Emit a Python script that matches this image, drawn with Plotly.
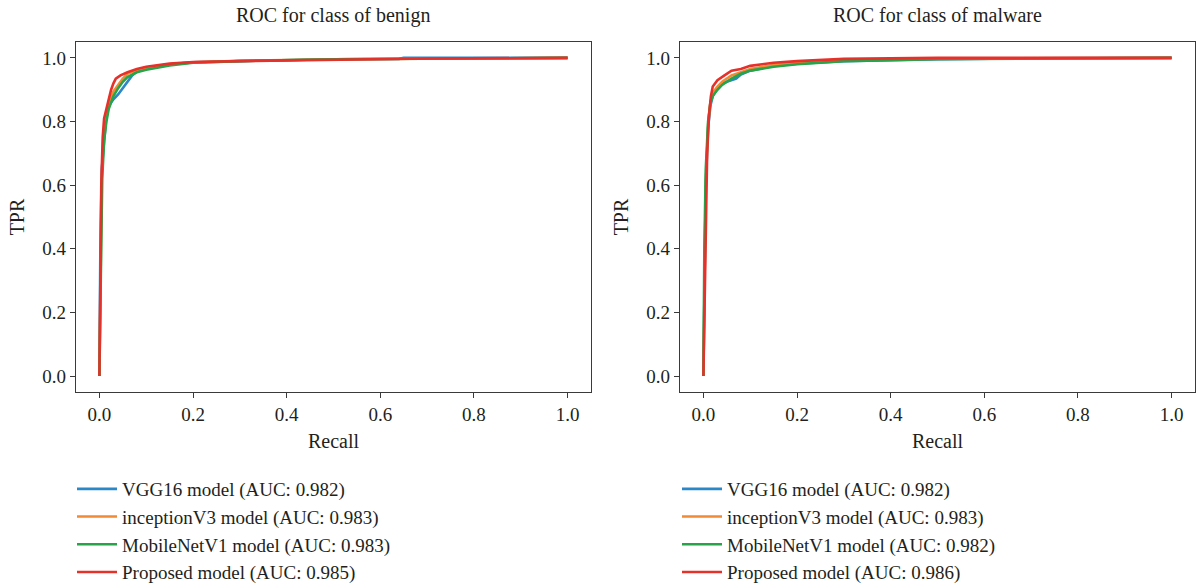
import plotly.graph_objects as go

# ROC curves, benign class: (false positive rate, true positive rate)
benign_vgg16_x = [0, 0.002, 0.005, 0.01, 0.015, 0.02, 0.03, 0.04, 0.05, 0.06, 0.07, 0.08, 0.1, 0.15, 0.2, 0.3, 0.5, 0.64, 0.65, 1.0]
benign_vgg16_y = [0, 0.40, 0.65, 0.75, 0.82, 0.85, 0.87, 0.885, 0.905, 0.925, 0.945, 0.958, 0.97, 0.98, 0.986, 0.99, 0.996, 0.997, 1.0, 1.0]
benign_incv3_x = [0, 0.002, 0.005, 0.008, 0.012, 0.016, 0.02, 0.03, 0.04, 0.05, 0.06, 0.08, 0.1, 0.15, 0.2, 0.3, 0.5, 0.7, 1.0]
benign_incv3_y = [0, 0.35, 0.62, 0.74, 0.80, 0.83, 0.86, 0.895, 0.915, 0.935, 0.95, 0.962, 0.97, 0.98, 0.986, 0.991, 0.996, 0.998, 1.0]
benign_mnv1_x = [0, 0.003, 0.006, 0.01, 0.015, 0.02, 0.03, 0.04, 0.05, 0.06, 0.08, 0.1, 0.12, 0.15, 0.2, 0.3, 0.5, 0.7, 1.0]
benign_mnv1_y = [0, 0.35, 0.62, 0.74, 0.80, 0.84, 0.88, 0.905, 0.925, 0.94, 0.955, 0.963, 0.968, 0.976, 0.985, 0.99, 0.996, 0.998, 1.0]
benign_prop_x = [0, 0.002, 0.004, 0.007, 0.01, 0.015, 0.02, 0.025, 0.03, 0.035, 0.045, 0.06, 0.08, 0.1, 0.15, 0.2, 0.3, 0.5, 0.7, 1.0]
benign_prop_y = [0, 0.30, 0.60, 0.75, 0.81, 0.84, 0.87, 0.90, 0.92, 0.935, 0.945, 0.955, 0.965, 0.972, 0.982, 0.987, 0.99, 0.995, 0.998, 1.0]

# ROC curves, malware class
malware_vgg16_x = [0, 0.002, 0.005, 0.01, 0.015, 0.02, 0.03, 0.04, 0.05, 0.06, 0.07, 0.08, 0.1, 0.15, 0.2, 0.3, 0.5, 0.7, 1.0]
malware_vgg16_y = [0, 0.35, 0.60, 0.78, 0.85, 0.88, 0.905, 0.92, 0.925, 0.93, 0.935, 0.948, 0.96, 0.975, 0.982, 0.99, 0.996, 0.999, 1.0]
malware_incv3_x = [0, 0.002, 0.005, 0.01, 0.015, 0.02, 0.03, 0.04, 0.06, 0.08, 0.1, 0.15, 0.2, 0.3, 0.5, 1.0]
malware_incv3_y = [0, 0.35, 0.60, 0.79, 0.86, 0.89, 0.91, 0.925, 0.945, 0.955, 0.965, 0.978, 0.985, 0.993, 0.998, 1.0]
malware_mnv1_x = [0, 0.002, 0.005, 0.01, 0.015, 0.02, 0.03, 0.04, 0.06, 0.08, 0.1, 0.15, 0.2, 0.3, 0.5, 1.0]
malware_mnv1_y = [0, 0.40, 0.65, 0.80, 0.86, 0.88, 0.90, 0.915, 0.935, 0.95, 0.96, 0.972, 0.98, 0.99, 0.996, 1.0]
malware_prop_x = [0, 0.002, 0.005, 0.008, 0.012, 0.016, 0.02, 0.03, 0.045, 0.06, 0.08, 0.1, 0.15, 0.2, 0.3, 0.5, 1.0]
malware_prop_y = [0, 0.20, 0.50, 0.70, 0.82, 0.88, 0.91, 0.93, 0.945, 0.96, 0.965, 0.975, 0.985, 0.99, 0.997, 1.0, 1.0]

model_names = ["VGG16 model", "inceptionV3 model", "MobileNetV1 model", "Proposed model"]
benign_auc = [0.982, 0.983, 0.983, 0.985]
malware_auc = [0.982, 0.983, 0.982, 0.986]
panel_titles = ["ROC for class of benign", "ROC for class of malware"]
tick_vals = [0.0, 0.2, 0.4, 0.6, 0.8, 1.0]

colors = ["#2a87c8", "#f08a35", "#27a449", "#e6302a"]
font_family = "Liberation Serif, Times New Roman, serif"
text_color = "#231f20"
axis_color = "#3a3a3a"

benign_curves = [(benign_vgg16_x, benign_vgg16_y), (benign_incv3_x, benign_incv3_y),
                 (benign_mnv1_x, benign_mnv1_y), (benign_prop_x, benign_prop_y)]
malware_curves = [(malware_vgg16_x, malware_vgg16_y), (malware_incv3_x, malware_incv3_y),
                  (malware_mnv1_x, malware_mnv1_y), (malware_prop_x, malware_prop_y)]

fig = go.Figure()

for panel, (curves, aucs, legend_id) in enumerate(
        [(benign_curves, benign_auc, "legend"), (malware_curves, malware_auc, "legend2")]):
    axis_suffix = "" if panel == 0 else "2"
    for (xs, ys), name, auc, color in zip(curves, model_names, aucs, colors):
        fig.add_trace(go.Scatter(
            x=xs, y=ys, mode="lines",
            name=f"{name} (AUC: {auc:.3f})",
            line=dict(color=color, width=2.6),
            xaxis="x" + axis_suffix, yaxis="y" + axis_suffix,
            legend=legend_id,
        ))

W, H = 1196, 584
y_dom = [(H - 392) / H, (H - 42) / H]

axis_common = dict(
    range=[-0.05, 1.05], tickvals=tick_vals, ticktext=[f"{v:.1f}" for v in tick_vals],
    showgrid=False, zeroline=False, showline=True, mirror=True,
    linecolor=axis_color, linewidth=1.2, ticks="outside", ticklen=5,
    tickcolor=axis_color, tickfont=dict(size=19, color=text_color, family=font_family),
)

legend_common = dict(
    xanchor="left", yanchor="top", y=(H - 470) / H,
    font=dict(size=19, color=text_color, family=font_family),
    bgcolor="rgba(0,0,0,0)", tracegroupgap=0, itemwidth=40,
)

fig.update_layout(
    width=W, height=H,
    margin=dict(l=0, r=0, t=0, b=0, autoexpand=False),
    paper_bgcolor="white", plot_bgcolor="white",
    font=dict(family=font_family, color=text_color, size=19),
    xaxis=dict(domain=[76 / W, 591 / W], anchor="y",
               title=dict(text="Recall", standoff=10, font=dict(size=20)), **axis_common),
    yaxis=dict(domain=y_dom, anchor="x",
               title=dict(text="TPR", standoff=12, font=dict(size=20)), **axis_common),
    xaxis2=dict(domain=[680 / W, 1195 / W], anchor="y2",
                title=dict(text="Recall", standoff=10, font=dict(size=20)), **axis_common),
    yaxis2=dict(domain=y_dom, anchor="x2",
                title=dict(text="TPR", standoff=12, font=dict(size=20)), **axis_common),
    legend=dict(x=72 / W, **legend_common),
    legend2=dict(x=677 / W, **legend_common),
    showlegend=True,
)

for title, cx in zip(panel_titles, [333, 937]):
    fig.add_annotation(text=title, x=cx / W, y=(H - 15) / H, xref="paper", yref="paper",
                       xanchor="center", yanchor="middle", showarrow=False,
                       font=dict(size=20, color=text_color, family=font_family))

fig.write_html("out.html")
